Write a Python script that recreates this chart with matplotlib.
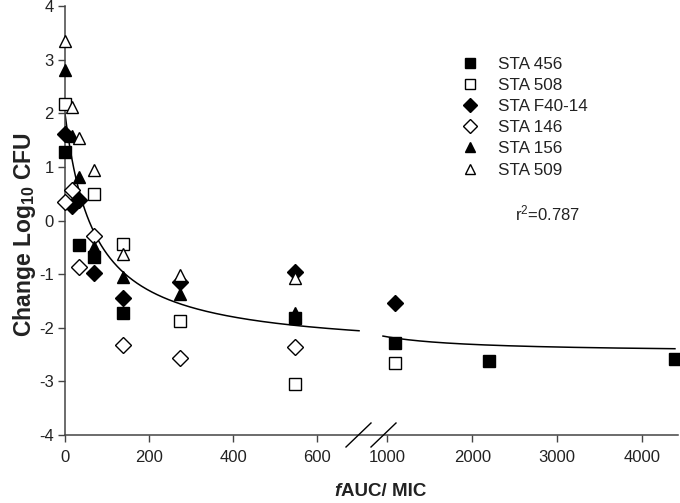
import numpy as np
import matplotlib
matplotlib.use("Agg")
import matplotlib.pyplot as plt
from matplotlib.lines import Line2D

plt.rcParams['font.family'] = ['Liberation Sans', 'DejaVu Sans']
plt.rcParams['mathtext.fontset'] = 'custom'
plt.rcParams['mathtext.rm'] = 'Liberation Sans'
plt.rcParams['mathtext.it'] = 'Liberation Sans:italic'
plt.rcParams['mathtext.bf'] = 'Liberation Sans:bold'

# ---- data ----
series_names = ["STA 456", "STA 508", "STA F40-14", "STA 146", "STA 156", "STA 509"]
sta456_x = [0, 34, 68, 137, 548, 1096, 2192, 4384]
sta456_y = [1.28, -0.45, -0.67, -1.72, -1.81, -2.28, -2.61, -2.59]
sta508_x = [0, 68, 137, 274, 548, 1096]
sta508_y = [2.18, 0.50, -0.43, -1.88, -3.05, -2.66]
staF40_x = [0, 17, 34, 68, 137, 274, 548, 1096]
staF40_y = [1.62, 0.28, 0.38, -0.98, -1.45, -1.14, -0.96, -1.54]
sta146_x = [0, 17, 34, 68, 137, 274, 548]
sta146_y = [0.34, 0.57, -0.87, -0.29, -2.32, -2.57, -2.35]
sta156_x = [0, 17, 34, 68, 137, 274, 548]
sta156_y = [2.81, 1.58, 0.81, -0.49, -1.05, -1.37, -1.72]
sta509_x = [0, 17, 34, 68, 137, 274, 548]
sta509_y = [3.36, 2.12, 1.55, 0.95, -0.62, -1.02, -1.07]

# fitted Emax model
E0, EMAX, EC50 = 2.0, 4.46, 70.0
r2_text = "0.787"

x_ticks = [0, 200, 400, 600, 1000, 2000, 3000, 4000]
y_ticks = [-4, -3, -2, -1, 0, 1, 2, 3, 4]

# ---- broken x scale ----
BRK_LO, BRK_HI, RATIO = 700.0, 950.0, 0.2024
T_HI = 757.0
xs_bp = np.array([-1e7, BRK_LO, BRK_HI, 1e7])
ts_bp = np.array([-1e7, BRK_LO, T_HI, T_HI + RATIO * (1e7 - BRK_HI)])

def fwd(x):
    return np.interp(x, xs_bp, ts_bp)

def inv(t):
    return np.interp(t, ts_bp, xs_bp)

fig = plt.figure(figsize=(6.8, 5.03), dpi=100)
L, R = 65 / 680, 678 / 680
B, T = (503 - 435) / 503, (503 - 6.3) / 503
ax = fig.add_axes([L, B, R - L, T - B])
ax.set_xscale('function', functions=(fwd, inv))
ax.set_xlim(0, 4420)
ax.set_ylim(-4, 4)

axcol = '#444444'
for s in ['top', 'right']:
    ax.spines[s].set_visible(False)
for s in ['left', 'bottom']:
    ax.spines[s].set_color(axcol)
    ax.spines[s].set_linewidth(1.1)
ax.set_xticks(x_ticks)
ax.set_xticklabels([str(v) for v in x_ticks])
ax.set_yticks(y_ticks)
ax.set_yticklabels([str(v) for v in y_ticks])
ax.tick_params(axis='both', direction='out', length=5, width=1.0, color=axcol,
               labelsize=12, labelcolor='#222222')
ax.tick_params(axis='x', pad=6)
ax.tick_params(axis='y', pad=3)
ax.minorticks_off()

# fitted curve (two segments)
xc1 = np.linspace(0, BRK_LO, 400)
xc2 = np.linspace(BRK_HI, 4384, 400)
for xc in (xc1, xc2):
    ax.plot(xc, E0 - EMAX * xc / (EC50 + xc), color='black', lw=1.1, zorder=2)

styles = [
    (sta456_x, sta456_y, 's', 'black', 8.0),
    (sta508_x, sta508_y, 's', 'white', 8.0),
    (staF40_x, staF40_y, 'D', 'black', 8.3),
    (sta146_x, sta146_y, 'D', 'white', 8.3),
    (sta156_x, sta156_y, '^', 'black', 9.0),
    (sta509_x, sta509_y, '^', 'white', 9.0),
]
handles = []
for (xx, yy, m, fc, ms), name in zip(styles, series_names):
    ax.plot(xx, yy, linestyle='none', marker=m, ms=ms, mfc=fc, mec='black',
            mew=1.0, clip_on=False, zorder=3)
    handles.append(Line2D([], [], linestyle='none', marker=m, ms=ms * 0.85,
                          mfc=fc, mec='black', mew=1.0, label=name))

leg = ax.legend(handles=handles, loc='upper left',
                bbox_to_anchor=((455 - 65) / 613, (435 - 50) / 428.7),
                frameon=False, fontsize=12.3, handlelength=1.0,
                handletextpad=1.1, labelspacing=0.36, borderaxespad=0)
for t in leg.get_texts():
    t.set_color('#222222')

ax.text((515 - 65) / 613, (435 - 213) / 428.7, r"r$^2$=" + r2_text,
        transform=ax.transAxes, fontsize=12, ha='left', va='center',
        color='#222222')

# axis-break slashes
for cx in (358.5, 383.5):
    fig.add_artist(Line2D([(cx - 12.5) / 680, (cx + 12.5) / 680],
                          [(503 - 447) / 503, (503 - 423) / 503],
                          color='black', lw=1.0))

# axis labels
fig.text(25 / 680, (503 - 235) / 503, r"Change Log$_{\mathbf{10}}$ CFU",
         rotation=90, ha='center', va='center', fontsize=16.5,
         fontweight='bold', color='#222222')
xl_x, xl_y = 341 / 680, (503 - 492) / 503
fig.text(xl_x, xl_y, "f", ha='right', va='center', fontsize=13.5,
         fontweight='bold', fontstyle='italic', color='#222222')
fig.text(xl_x, xl_y, "AUC/ MIC", ha='left', va='center', fontsize=13.5,
         fontweight='bold', color='#222222')

fig.savefig("out.png", dpi=100, facecolor='white')
